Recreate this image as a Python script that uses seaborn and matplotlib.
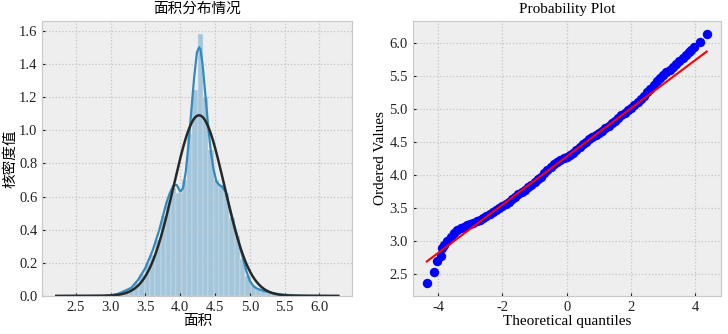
import numpy as np
import pandas as pd
import matplotlib
matplotlib.use("Agg")
import matplotlib.pyplot as plt
import seaborn as sns

# 直方图（密度）: 50 个分箱
hist_min, hist_max = 2.35, 6.15
hist_density = [0.0003, 0.0002, 0.0003, 0.0005, 0.0005, 0.001, 0.0015, 0.002, 0.004, 0.008,
                0.018, 0.035, 0.045, 0.08, 0.13, 0.19, 0.25, 0.34, 0.48, 0.58,
                0.65, 0.62, 0.70, 0.98, 1.24, 1.58, 1.20, 0.88, 0.70, 0.67,
                0.62, 0.47, 0.36, 0.22, 0.12, 0.06, 0.04, 0.03, 0.02, 0.015,
                0.01, 0.007, 0.005, 0.004, 0.003, 0.002, 0.0015, 0.001, 0.0005, 0.0003]

# 核密度曲线
kde_x = [2.22, 2.6, 2.9, 3.0, 3.1, 3.2, 3.3, 3.4, 3.5, 3.6, 3.7, 3.75, 3.8, 3.85, 3.9, 3.95,
         4.0, 4.04, 4.08, 4.12, 4.16, 4.2, 4.24, 4.27, 4.29, 4.32, 4.36, 4.40, 4.44, 4.48,
         4.52, 4.56, 4.6, 4.65, 4.7, 4.75, 4.8, 4.85, 4.9, 4.95, 5.0, 5.05, 5.1, 5.2, 5.3,
         5.4, 5.5, 5.7, 6.0, 6.27]
kde_y = [0.0, 0.0005, 0.002, 0.004, 0.012, 0.03, 0.05, 0.10, 0.17, 0.27, 0.40, 0.48, 0.56, 0.62,
         0.665, 0.67, 0.63, 0.65, 0.75, 0.92, 1.12, 1.32, 1.47, 1.50, 1.49, 1.40, 1.22, 1.03,
         0.87, 0.76, 0.69, 0.67, 0.66, 0.63, 0.55, 0.47, 0.39, 0.31, 0.23, 0.15, 0.09, 0.06,
         0.045, 0.03, 0.02, 0.012, 0.007, 0.003, 0.001, 0.0]

# 正态拟合参数
fit_mu, fit_sigma = 4.27, 0.366

# Probability plot
qq_x = [-4.35, -4.13, -4.02, -3.92, -3.89, -3.82, -3.72, -3.6, -3.5, -3.4, -3.3, -3.2, -3.1,
        -3.0, -2.9, -2.8, -2.7, -2.6, -2.5, -2.4, -2.3, -2.2, -2.1, -2.0, -1.9, -1.8, -1.7,
        -1.6, -1.5, -1.4, -1.3, -1.2, -1.1, -1.0, -0.9, -0.8, -0.7, -0.6, -0.5, -0.4, -0.3,
        -0.2, -0.1, 0.0, 0.1, 0.2, 0.3, 0.4, 0.5, 0.6, 0.7, 0.8, 0.9, 1.0, 1.1, 1.2, 1.3,
        1.4, 1.5, 1.6, 1.7, 1.8, 1.9, 2.0, 2.1, 2.2, 2.3, 2.4, 2.5, 2.6, 2.7, 2.8, 2.9, 3.0,
        3.1, 3.2, 3.3, 3.4, 3.5, 3.6, 3.7, 3.8, 3.87, 3.97, 4.13, 4.35]
qq_y = [2.35, 2.52, 2.69, 2.76, 2.88, 2.94, 2.99, 3.06, 3.11, 3.16, 3.19, 3.21, 3.23,
        3.25, 3.27, 3.29, 3.31, 3.34, 3.37, 3.40, 3.43, 3.46, 3.49, 3.52, 3.56, 3.59, 3.63,
        3.66, 3.70, 3.74, 3.77, 3.81, 3.85, 3.89, 3.93, 3.97, 4.02, 4.07, 4.12, 4.16, 4.19,
        4.22, 4.25, 4.27, 4.30, 4.33, 4.37, 4.42, 4.46, 4.50, 4.54, 4.57, 4.60, 4.63, 4.66,
        4.70, 4.74, 4.78, 4.82, 4.86, 4.90, 4.94, 4.98, 5.01, 5.05, 5.10, 5.15, 5.20, 5.25,
        5.30, 5.36, 5.42, 5.47, 5.51, 5.55, 5.59, 5.63, 5.68, 5.73, 5.77, 5.82, 5.86, 5.89,
        5.94, 6.01, 6.14]
qq_slope, qq_intercept = 0.366, 4.275

plt.style.use("bmh")
plt.rcParams['font.family'] = ['Liberation Serif', 'Noto Sans CJK SC']
plt.rcParams['axes.unicode_minus'] = False
plt.rcParams['xtick.labelsize'] = 10.5
plt.rcParams['ytick.labelsize'] = 10.5
plt.rcParams['xtick.direction'] = 'in'
plt.rcParams['ytick.direction'] = 'in'
plt.rcParams['xtick.major.size'] = 2.5
plt.rcParams['ytick.major.size'] = 2.5
plt.rcParams['xtick.color'] = '#222222'
plt.rcParams['ytick.color'] = '#222222'
plt.rcParams['grid.color'] = '#c4c4c4'
plt.rcParams['grid.linestyle'] = ':'
plt.rcParams['grid.linewidth'] = 0.9
plt.rcParams['axes.edgecolor'] = '#c8c8c8'

fig = plt.figure(figsize=(7.28, 3.34), dpi=100)
ax1 = fig.add_axes([0.058, 0.114, 0.426, 0.823])
ax2 = fig.add_axes([0.567, 0.114, 0.423, 0.823])

# 左图：分布
edges = np.linspace(hist_min, hist_max, len(hist_density) + 1)
centers = (edges[:-1] + edges[1:]) / 2
df_hist = pd.DataFrame({"x": centers, "w": hist_density})
sns.histplot(data=df_hist, x="x", weights="w", bins=edges.tolist(), stat="count",
             color="#348ABD", alpha=0.4, edgecolor="#dde8f0", linewidth=0.3, ax=ax1)
sns.lineplot(x=kde_x, y=kde_y, color="#348ABD", lw=1.6, ax=ax1)
xs = np.linspace(kde_x[0], kde_x[-1], 300)
ys = np.exp(-0.5 * ((xs - fit_mu) / fit_sigma) ** 2) / (fit_sigma * np.sqrt(2 * np.pi))
sns.lineplot(x=xs, y=ys, color="#282828", lw=1.8, ax=ax1)
ax1.set_xticks([2.5, 3.0, 3.5, 4.0, 4.5, 5.0, 5.5, 6.0])
ax1.set_yticks([0.0, 0.2, 0.4, 0.6, 0.8, 1.0, 1.2, 1.4, 1.6])
ax1.yaxis.set_major_formatter(matplotlib.ticker.FormatStrFormatter('%.1f'))
ax1.set_title("面积分布情况", fontsize=10.5)
ax1.set_xlabel("面积", fontsize=10.5, labelpad=1)
ax1.set_ylabel("核密度值", fontsize=10.5, labelpad=1)

# 右图：Q-Q
sns.scatterplot(x=qq_x, y=qq_y, color="#0000ff", s=46, linewidth=0, ax=ax2, zorder=3)
line_x = np.array([qq_x[0], qq_x[-1]])
sns.lineplot(x=line_x, y=qq_slope * line_x + qq_intercept, color="red", lw=1.5, ax=ax2, zorder=4)
ax2.set_xticks([-4, -2, 0, 2, 4])
ax2.set_yticks([2.5, 3.0, 3.5, 4.0, 4.5, 5.0, 5.5, 6.0])
ax2.yaxis.set_major_formatter(matplotlib.ticker.FormatStrFormatter('%.1f'))
ax2.set_title("Probability Plot", fontsize=11)
ax2.set_xlabel("Theoretical quantiles", fontsize=11, labelpad=1)
ax2.set_ylabel("Ordered Values", fontsize=11, labelpad=2)

fig.savefig("out.png", dpi=100)
